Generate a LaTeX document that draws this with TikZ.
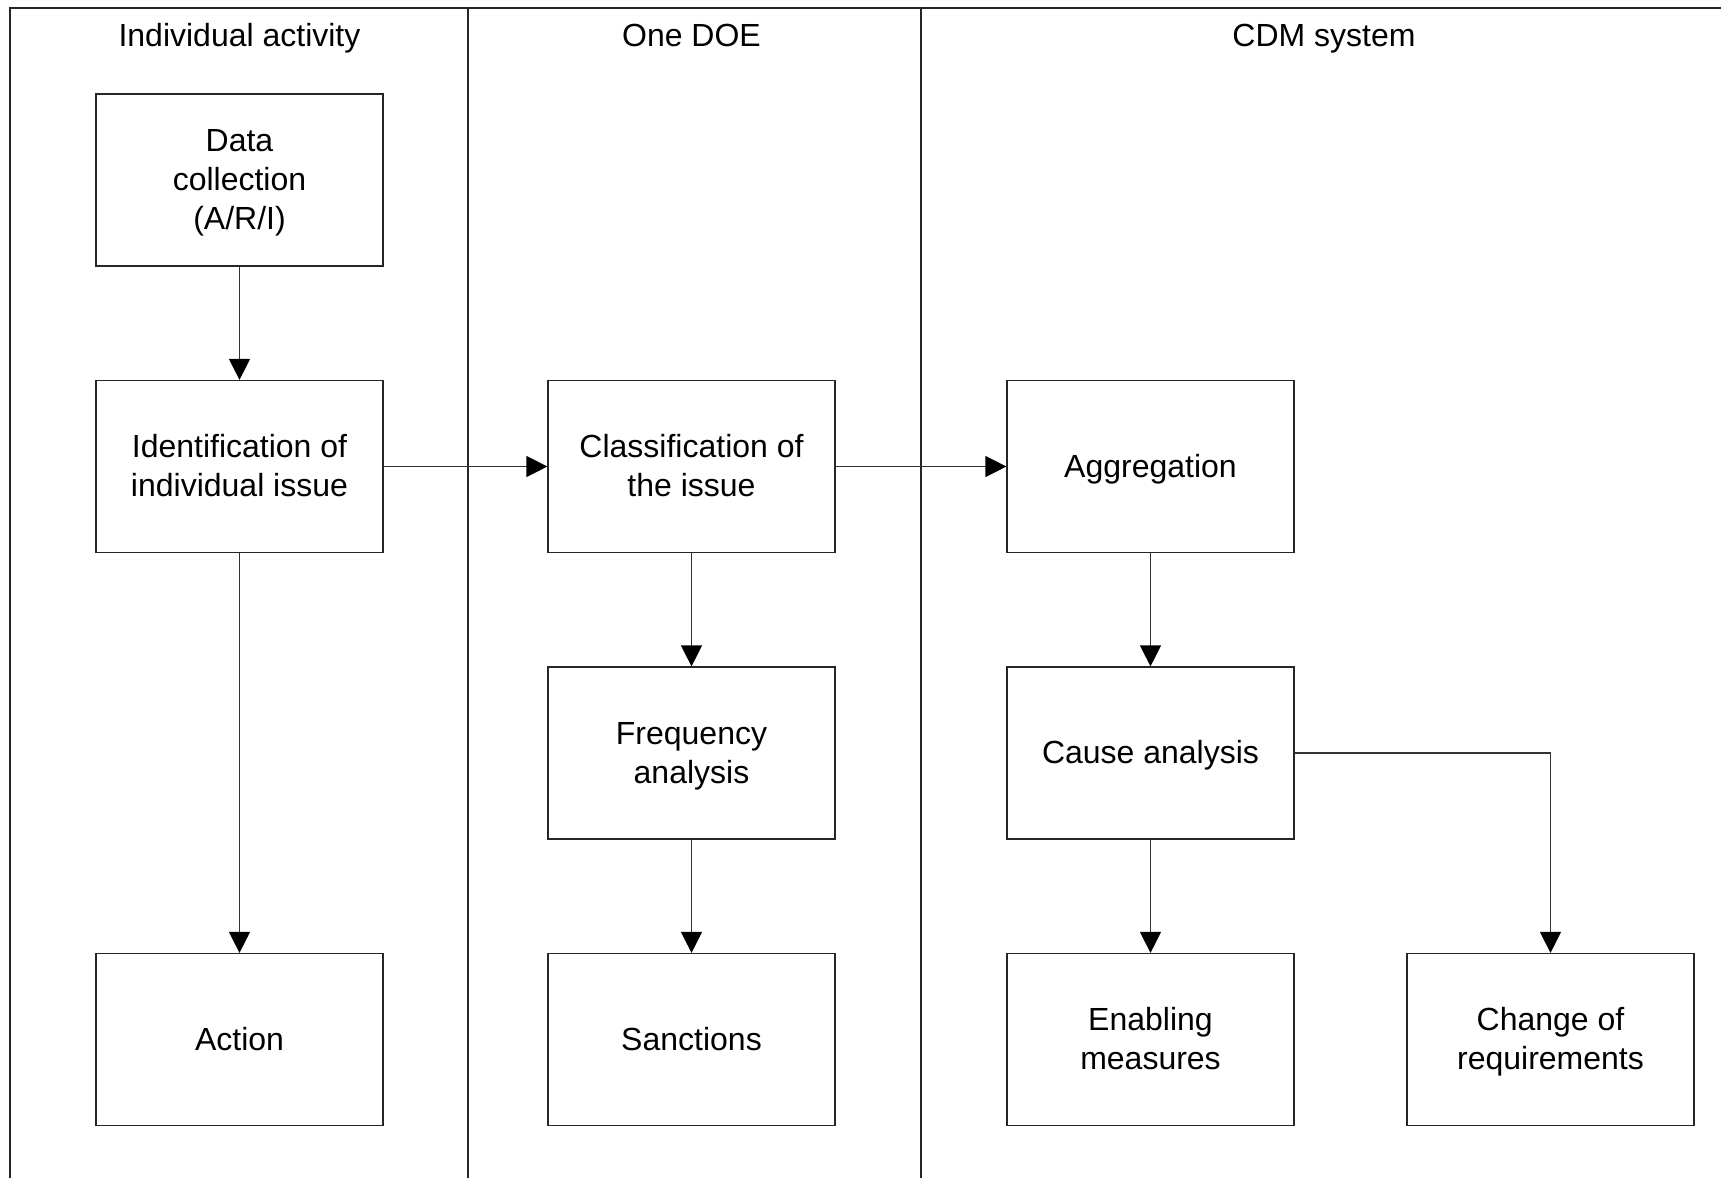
\documentclass[tikz,border=0pt]{standalone}
\usepackage{fontspec}
\setmainfont{Liberation Sans}
\usetikzlibrary{arrows.meta}
\newcommand{\bxtop}{\rule{0pt}{29pt}}
\newcommand{\bxbot}{\rule[-8pt]{0pt}{8pt}}
\begin{document}
\begin{tikzpicture}[x=1pt,y=-1pt,
  every node/.style={font=\fontsize{32}{39}\selectfont},
  boxbase/.style={draw=black!85, line width=1.2pt, minimum width=287pt, minimum height=172pt, align=center, inner sep=0pt},
  box/.style={boxbase, execute at begin node={\rule{0pt}{29pt}}, execute at end node={\rule[-8pt]{0pt}{8pt}}},
  mbox/.style={boxbase},
  hdr/.style={anchor=base, inner sep=0pt},
  frame/.style={draw=black!85, line width=1.2pt},
  conn/.style={draw=black!80, line width=1.2pt, -{Triangle[length=21pt,width=21pt,color=black]}}]
\useasboundingbox (0,0) rectangle (1721,1178);
\draw[frame] (1721,8) -- (10,8) -- (10,1178);
\draw[frame] (468,8) -- (468,1178);
\draw[frame] (921,8) -- (921,1178);
\node[hdr] (h1) at (239.5,46) {Individual activity};
\node[hdr] (h2) at (691.5,46) {One DOE};
\node[hdr] (h3) at (1324,46) {CDM system};
\node[mbox] (data) at (239.5,180) {\bxtop Data\\collection\\(A/R/I)\bxbot};
\node[mbox] (ident) at (239.5,466.5) {\bxtop Identification of\\individual issue\bxbot};
\node[box] (action) at (239.5,1039.5) {Action};
\node[mbox] (classif) at (691.5,466.5) {\bxtop Classification of\\the issue\bxbot};
\node[mbox] (freq) at (691.5,753) {\bxtop Frequency\\analysis\bxbot};
\node[box] (sanct) at (691.5,1039.5) {Sanctions};
\node[box] (aggr) at (1150.5,466.5) {Aggregation};
\node[box] (cause) at (1150.5,753) {Cause analysis};
\node[mbox] (enab) at (1150.5,1039.5) {\bxtop Enabling\\measures\bxbot};
\node[mbox] (change) at (1550.5,1039.5) {\bxtop Change of\\requirements\bxbot};
\draw[conn] (data) -- (ident);
\draw[conn] (ident) -- (action);
\draw[conn] (ident) -- (classif);
\draw[conn] (classif) -- (aggr);
\draw[conn] (classif) -- (freq);
\draw[conn] (freq) -- (sanct);
\draw[conn] (aggr) -- (cause);
\draw[conn] (cause) -- (enab);
\draw[conn] (cause.east) -| (change.north);
\end{tikzpicture}
\end{document}
